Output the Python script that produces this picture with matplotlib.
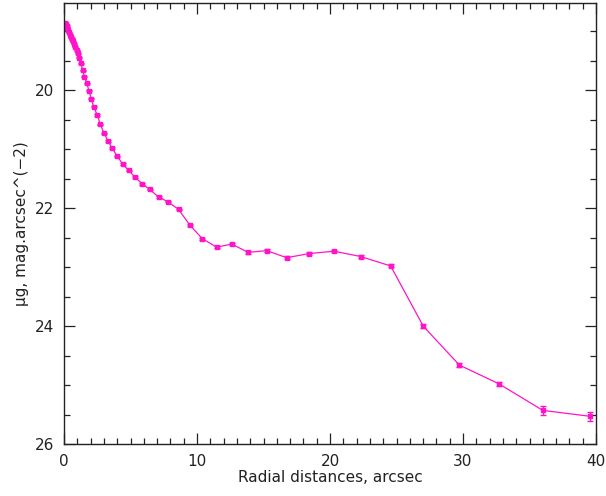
import matplotlib
matplotlib.use("Agg")
import matplotlib.pyplot as plt
from matplotlib.ticker import MultipleLocator

# surface brightness profile
radius = [0.08, 0.14, 0.20, 0.26, 0.32, 0.38, 0.44, 0.50, 0.57, 0.65, 0.73, 0.83,
          0.95, 1.05, 1.13, 1.26, 1.41, 1.53, 1.71, 1.88, 2.05, 2.23, 2.50, 2.73,
          3.01, 3.31, 3.61, 4.01, 4.41, 4.86, 5.32, 5.89, 6.43, 7.11, 7.80, 8.61,
          9.47, 10.41, 11.48, 12.61, 13.86, 15.24, 16.74, 18.44, 20.30, 22.31,
          24.56, 27.01, 29.72, 32.71, 36.00, 39.55]
mu_g = [18.86, 18.88, 18.91, 18.94, 18.98, 19.02, 19.06, 19.10, 19.13, 19.17, 19.21, 19.26,
        19.32, 19.37, 19.45, 19.54, 19.66, 19.77, 19.88, 20.01, 20.14, 20.28, 20.42, 20.58,
        20.73, 20.86, 20.98, 21.12, 21.25, 21.36, 21.47, 21.59, 21.68, 21.81, 21.89, 22.02,
        22.29, 22.52, 22.66, 22.61, 22.75, 22.72, 22.84, 22.77, 22.73, 22.82,
        22.98, 24.00, 24.66, 24.98, 25.43, 25.53]
mu_err = [0.01] * 36 + [0.015, 0.015, 0.02, 0.02, 0.025, 0.02, 0.025, 0.02, 0.02, 0.02,
                        0.025, 0.03, 0.04, 0.04, 0.07, 0.08]

color = "#ff14c8"

fig = plt.figure(figsize=(6.06, 4.96), dpi=100)
ax = fig.add_axes([64 / 606, 52 / 496, 532 / 606, 441 / 496])

ax.errorbar(radius, mu_g, yerr=mu_err, color=color, lw=0.9, marker="s", ms=3.5,
            mec=color, mfc=color, ecolor=color, elinewidth=1.0, capsize=2.5, capthick=1.0)

ax.set_xlim(0, 40)
ax.set_ylim(26.0, 18.52)
ax.xaxis.set_major_locator(MultipleLocator(10))
ax.xaxis.set_minor_locator(MultipleLocator(1))
ax.yaxis.set_major_locator(MultipleLocator(2))
ax.yaxis.set_minor_locator(MultipleLocator(0.5))
ax.tick_params(which="both", direction="in", top=True, right=True, labelsize=11,
               width=0.9, colors="#222222")
ax.tick_params(which="major", length=8, pad=7)
ax.tick_params(which="minor", length=4)
for s in ax.spines.values():
    s.set_linewidth(1.0)
    s.set_color("#222222")

ax.set_xlabel("Radial distances, arcsec", fontsize=11, labelpad=1, color="#222222")
ax.set_ylabel("μg, mag.arcsec^(\u22122)", fontsize=11, labelpad=4, color="#222222")

fig.savefig("out.png", dpi=100)
